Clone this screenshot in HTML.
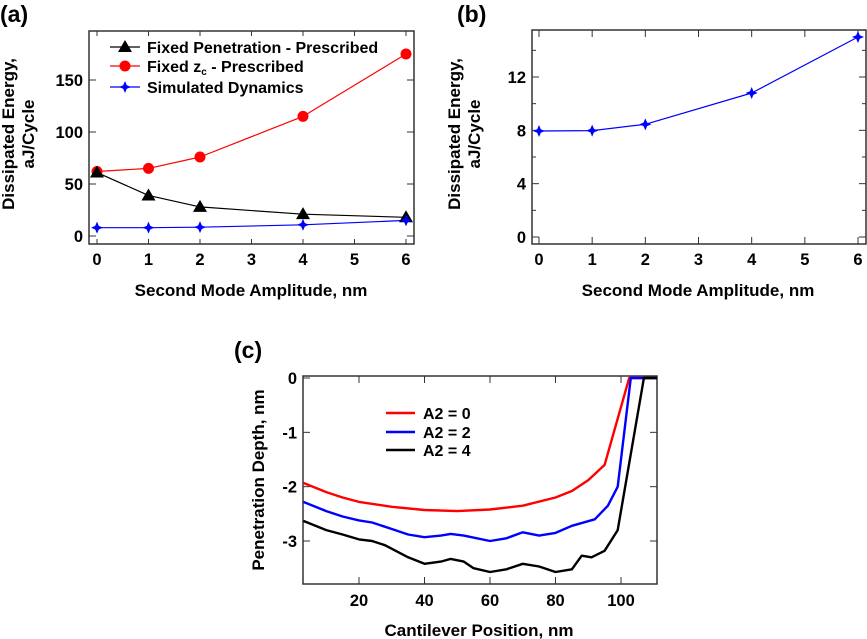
<!DOCTYPE html>
<html><head><meta charset="utf-8"><style>
html,body{margin:0;padding:0;background:#fff;}
svg{display:block;font-family:"Liberation Sans",Arial,sans-serif;font-weight:bold;}
</style></head><body>
<svg id="fig" width="867" height="639" viewBox="0 0 867 639">
<text x="0" y="22" font-size="23">(a)</text>
<text x="457" y="22" font-size="23">(b)</text>
<text x="234" y="358" font-size="23">(c)</text>
<g id="pa"></g>
<g id="pb"></g>
<g id="pc"></g>
</svg>
<script>
// Panel a data
const ampA = [0, 1, 2, 4, 6];
const fixedPen = [61, 39, 28, 21, 18];
const fixedZc = [62, 65, 76, 115, 175];
const simDyn = [8, 8, 8.5, 10.8, 15];
const yTicksA = [0, 50, 100, 150];
const xTicks = [0, 1, 2, 3, 4, 5, 6];
// Panel b data
const ampB = [0, 1, 2, 4, 6];
const simDynB = [7.95, 7.98, 8.45, 10.8, 15];
const yTicksB = [0, 4, 8, 12];
const yMinorB = [2, 6, 10, 14];
// Panel c data
const redX = [3, 10, 15, 20, 30, 40, 50, 60, 70, 80, 85, 90, 95, 102.5, 111];
const redY = [-1.93, -2.1, -2.2, -2.28, -2.37, -2.43, -2.45, -2.42, -2.35, -2.2, -2.08, -1.88, -1.6, 0, 0];
const blueX = [3, 10, 15, 20, 24, 30, 35, 40, 45, 48, 52, 60, 65, 70, 75, 80, 85, 92, 96, 99, 103, 111];
const blueY = [-2.28, -2.45, -2.55, -2.62, -2.66, -2.78, -2.88, -2.93, -2.9, -2.87, -2.9, -3.0, -2.95, -2.84, -2.9, -2.85, -2.72, -2.6, -2.35, -2.0, 0, 0];
const blackX = [3, 10, 15, 20, 24, 28, 35, 40, 45, 48, 52, 55, 60, 65, 70, 75, 80, 85, 88, 91, 95, 99, 107, 111];
const blackY = [-2.63, -2.8, -2.88, -2.97, -3.0, -3.08, -3.3, -3.42, -3.38, -3.33, -3.38, -3.5, -3.57, -3.52, -3.42, -3.47, -3.57, -3.52, -3.27, -3.3, -3.18, -2.8, 0, 0];
const xTicksC = [20, 40, 60, 80, 100];
const yTicksC = [0, -1, -2, -3];

const NS = "http://www.w3.org/2000/svg";
const TF = 16.5, AF = 17, LF = 16;
function mk(parent, tag, attrs, text) {
  const e = document.createElementNS(NS, tag);
  for (const k in attrs) e.setAttribute(k, attrs[k]);
  if (text !== undefined) e.textContent = text;
  parent.appendChild(e);
  return e;
}
function lin(d0, d1, r0, r1) { return v => r0 + (v - d0) * (r1 - r0) / (d1 - d0); }

function frame(g, L, T, R, B) {
  const f = mk(g, 'rect', {x: L, y: T, width: R - L, height: B - T, fill: 'none', stroke: '#333', 'stroke-width': 1.5});
  
  
}
function tickX(g, x, T, B, len) {
  mk(g, 'line', {x1: x, x2: x, y1: B, y2: B - len, stroke: '#333', 'stroke-width': 1});
  mk(g, 'line', {x1: x, x2: x, y1: T, y2: T + len, stroke: '#333', 'stroke-width': 1});
}
function tickY(g, y, L, R, len) {
  mk(g, 'line', {x1: L, x2: L + len, y1: y, y2: y, stroke: '#333', 'stroke-width': 1});
  mk(g, 'line', {x1: R, x2: R - len, y1: y, y2: y, stroke: '#333', 'stroke-width': 1});
}
function path(g, xs, ys, sx, sy, color, w, name) {
  let d = '';
  xs.forEach((v, i) => { d += (i ? 'L' : 'M') + sx(v).toFixed(1) + ',' + sy(ys[i]).toFixed(1); });
  const p = mk(g, 'path', {d: d, fill: 'none', stroke: color, 'stroke-width': w, 'stroke-linejoin': 'round'});
  
  
}
function star(g, x, y, color, r) {
  const s = r * 0.3;
  const d = `M${x},${y - r}L${x + s},${y - s}L${x + r},${y}L${x + s},${y + s}L${x},${y + r}L${x - s},${y + s}L${x - r},${y}L${x - s},${y - s}Z`;
  const p = mk(g, 'path', {d: d, fill: color});
  
  
}
function tri(g, x, y) {
  const p = mk(g, 'path', {d: `M${x},${y - 7}L${x + 7},${y + 5}L${x - 7},${y + 5}Z`, fill: '#000'});
  
  
}
function circ(g, x, y) {
  const p = mk(g, 'circle', {cx: x, cy: y, r: 5.5, fill: '#f00'});
  
  
}
function ytitle(g, cx, cy, lines, name) {
  const t = mk(g, 'text', {transform: `translate(${cx},${cy}) rotate(-90)`, 'text-anchor': 'middle', 'font-size': AF});
  
  
  lines.forEach((l, i) => mk(t, 'tspan', {x: 0, dy: i ? 20 : 0}, l));
}

// ---------- Panel a ----------
(function () {
  const g = document.getElementById('pa');
  const L = 89, R = 414, T = 31, B = 244;
  const sx = lin(0, 6, 97, 406), sy = lin(0, 150, 236, 80);
  frame(g, L, T, R, B);
  xTicks.forEach(v => {
    tickX(g, sx(v), T, B, 5);
    const t = mk(g, 'text', {x: sx(v), y: 265, 'text-anchor': 'middle', 'font-size': TF}, v);
    
    
  });
  yTicksA.forEach(v => {
    tickY(g, sy(v), L, R, 7);
    const t = mk(g, 'text', {x: 83, y: sy(v) + 6, 'text-anchor': 'end', 'font-size': TF}, v);
    
    
  });
  const xt = mk(g, 'text', {x: 251, y: 296, 'text-anchor': 'middle', 'font-size': AF}, 'Second Mode Amplitude, nm');
  
  
  ytitle(g, 14, 134, ['Dissipated Energy,', 'aJ/Cycle'], 'y-axis-title');
  path(g, ampA, fixedZc, sx, sy, '#f00', 1.2, 'series-fixed-zc');
  path(g, ampA, fixedPen, sx, sy, '#000', 1.2, 'series-fixed-penetration');
  path(g, ampA, simDyn, sx, sy, '#00f', 1.2, 'series-simulated-dynamics');
  ampA.forEach((v, i) => circ(g, sx(v), sy(fixedZc[i])));
  ampA.forEach((v, i) => tri(g, sx(v), sy(fixedPen[i])));
  ampA.forEach((v, i) => star(g, sx(v), sy(simDyn[i]), '#00f', 6));
  const lg = mk(g, 'g', {});
  
  
  mk(lg, 'line', {x1: 110, x2: 140, y1: 47, y2: 47, stroke: '#000', 'stroke-width': 1.2});
  tri(lg, 125, 47);
  mk(lg, 'text', {x: 147, y: 53, 'font-size': LF}, 'Fixed Penetration - Prescribed');
  mk(lg, 'line', {x1: 110, x2: 140, y1: 66, y2: 66, stroke: '#f00', 'stroke-width': 1.2});
  circ(lg, 125, 66);
  const tz = mk(lg, 'text', {x: 147, y: 72, 'font-size': LF}, 'Fixed z');
  mk(tz, 'tspan', {'font-size': 10, dy: 3}, 'c');
  mk(tz, 'tspan', {dy: -3}, ' - Prescribed');
  mk(lg, 'line', {x1: 110, x2: 140, y1: 87, y2: 87, stroke: '#00f', 'stroke-width': 1.2});
  star(lg, 125, 87, '#00f', 6);
  mk(lg, 'text', {x: 147, y: 93, 'font-size': LF}, 'Simulated Dynamics');
})();

// ---------- Panel b ----------
(function () {
  const g = document.getElementById('pb');
  const L = 532, R = 866, T = 30, B = 244;
  const sx = lin(0, 6, 539, 858), sy = lin(0, 12, 237, 77);
  frame(g, L, T, R, B);
  xTicks.forEach(v => {
    tickX(g, sx(v), T, B, 7);
    const t = mk(g, 'text', {x: sx(v), y: 265, 'text-anchor': 'middle', 'font-size': TF}, v);
    
    
  });
  yTicksB.forEach(v => {
    tickY(g, sy(v), L, R, 7);
    const t = mk(g, 'text', {x: 526, y: sy(v) + 6, 'text-anchor': 'end', 'font-size': TF}, v);
    
    
  });
  yMinorB.forEach(v => tickY(g, sy(v), L, R, 4));
  const xt = mk(g, 'text', {x: 698, y: 296, 'text-anchor': 'middle', 'font-size': AF}, 'Second Mode Amplitude, nm');
  
  
  ytitle(g, 460, 134, ['Dissipated Energy,', 'aJ/Cycle'], 'y-axis-title');
  path(g, ampB, simDynB, sx, sy, '#00f', 1.2, 'series-simulated-dynamics');
  ampB.forEach((v, i) => star(g, sx(v), sy(simDynB[i]), '#00f', 6));
})();

// ---------- Panel c ----------
(function () {
  const g = document.getElementById('pc');
  const L = 303, R = 657, T = 376, B = 584;
  const sx = lin(20, 100, 359, 621), sy = lin(0, -3, 378, 541);
  frame(g, L, T, R, B);
  xTicksC.forEach(v => {
    tickX(g, sx(v), T, B, 7);
    const t = mk(g, 'text', {x: sx(v), y: 606, 'text-anchor': 'middle', 'font-size': TF}, v);
    
    
  });
  yTicksC.forEach(v => {
    tickY(g, sy(v), L, R, 7);
    const t = mk(g, 'text', {x: 297, y: sy(v) + 6, 'text-anchor': 'end', 'font-size': TF}, v);
    
    
  });
  const xt = mk(g, 'text', {x: 479, y: 636, 'text-anchor': 'middle', 'font-size': AF}, 'Cantilever Position, nm');
  
  
  ytitle(g, 264, 480, ['Penetration Depth, nm'], 'y-axis-title');
  path(g, redX, redY, sx, sy, '#f00', 2.4, 'series-a2-0');
  path(g, blueX, blueY, sx, sy, '#00f', 2.4, 'series-a2-2');
  path(g, blackX, blackY, sx, sy, '#000', 2.4, 'series-a2-4');
  const lg = mk(g, 'g', {});
  
  
  [['#f00', 'A2 = 0', 413], ['#00f', 'A2 = 2', 432], ['#000', 'A2 = 4', 450]].forEach(e => {
    mk(lg, 'line', {x1: 386, x2: 415, y1: e[2], y2: e[2], stroke: e[0], 'stroke-width': 2.4});
    mk(lg, 'text', {x: 423, y: e[2] + 6, 'font-size': LF}, e[1]);
  });
})();
</script>
</body></html>
